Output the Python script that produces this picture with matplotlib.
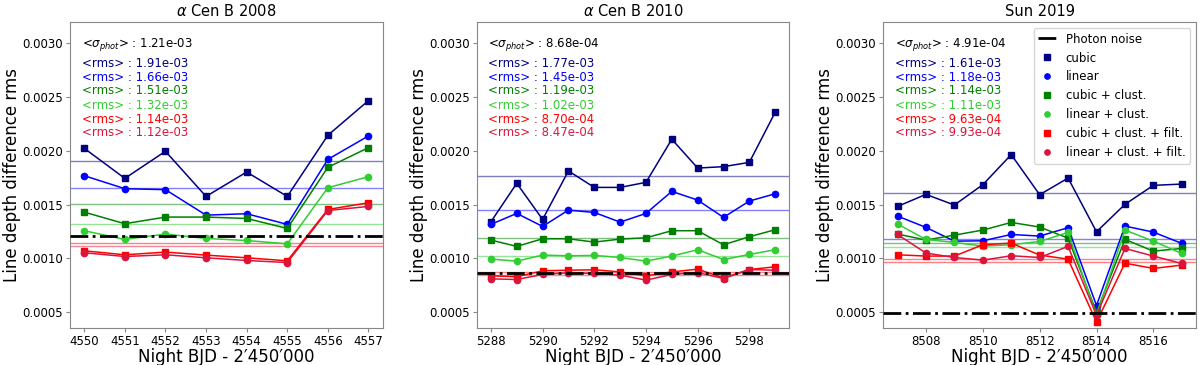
import matplotlib
matplotlib.use("Agg")
import matplotlib.pyplot as plt
from matplotlib.lines import Line2D

# ---------------- data ----------------
titles = [r"$\alpha$ Cen B 2008", r"$\alpha$ Cen B 2010", "Sun 2019"]

nights_2008 = [4550, 4551, 4552, 4553, 4554, 4555, 4556, 4557]
nights_2010 = [5288, 5289, 5290, 5291, 5292, 5293, 5294, 5295, 5296, 5297, 5298, 5299]
nights_2019 = [8507, 8508, 8509, 8510, 8511, 8512, 8513, 8514, 8515, 8516, 8517]

xticks_2008 = [4550, 4551, 4552, 4553, 4554, 4555, 4556, 4557]
xticks_2010 = [5288, 5290, 5292, 5294, 5296, 5298]
xticks_2019 = [8508, 8510, 8512, 8514, 8516]

series_labels = ["cubic", "linear", "cubic + clust.", "linear + clust.",
                 "cubic + clust. + filt.", "linear + clust. + filt."]

# 2008
cubic_2008 = [0.002025, 0.001745, 0.001997, 0.001577, 0.001804, 0.001577, 0.002146, 0.002469]
linear_2008 = [0.001770, 0.001649, 0.001640, 0.001403, 0.001416, 0.001317, 0.001922, 0.002140]
cubic_cl_2008 = [0.001431, 0.001323, 0.001385, 0.001385, 0.001372, 0.001279, 0.001848, 0.002031]
linear_cl_2008 = [0.001258, 0.001177, 0.001227, 0.001186, 0.001167, 0.001136, 0.001658, 0.001761]
cubic_clf_2008 = [0.001071, 0.001034, 0.001059, 0.001031, 0.001006, 0.000978, 0.001456, 0.001518]
linear_clf_2008 = [0.001053, 0.001018, 0.001034, 0.001006, 0.000981, 0.000962, 0.001446, 0.001484]

# 2010
cubic_2010 = [0.001341, 0.001699, 0.001363, 0.001814, 0.001661, 0.001661,
              0.001708, 0.002109, 0.001841, 0.001854, 0.001894, 0.002360]
linear_2010 = [0.001317, 0.001419, 0.001298, 0.001450, 0.001428, 0.001338,
               0.001419, 0.001624, 0.001543, 0.001382, 0.001534, 0.001602]
cubic_cl_2010 = [0.001171, 0.001112, 0.001183, 0.001183, 0.001152, 0.001180,
                 0.001192, 0.001258, 0.001258, 0.001127, 0.001202, 0.001267]
linear_cl_2010 = [0.000994, 0.000975, 0.001031, 0.001025, 0.001028, 0.001009,
                  0.000975, 0.001022, 0.001081, 0.000990, 0.001037, 0.001081]
cubic_clf_2010 = [0.000838, 0.000830, 0.000885, 0.000891, 0.000894, 0.000875,
                  0.000838, 0.000875, 0.000900, 0.000819, 0.000897, 0.000922]
linear_clf_2010 = [0.000810, 0.000804, 0.000851, 0.000866, 0.000860, 0.000845,
                   0.000798, 0.000851, 0.000869, 0.000813, 0.000897, 0.000890]

# 2019
cubic_2019 = [0.001484, 0.001596, 0.001497, 0.001686, 0.001966, 0.001593,
              0.001748, 0.001248, 0.001503, 0.001680, 0.001692]
linear_2019 = [0.001394, 0.001289, 0.001161, 0.001164, 0.001223, 0.001208,
               0.001286, 0.000562, 0.001301, 0.001245, 0.001140]
cubic_cl_2019 = [0.001227, 0.001171, 0.001217, 0.001264, 0.001335, 0.001292,
                 0.001189, 0.000500, 0.001177, 0.001068, 0.001093]
linear_cl_2019 = [0.001320, 0.001177, 0.001149, 0.001115, 0.001127, 0.001158,
                  0.001242, 0.000470, 0.001264, 0.001161, 0.001046]
cubic_clf_2019 = [0.001034, 0.001022, 0.001022, 0.001127, 0.001143, 0.001031,
                  0.000994, 0.000407, 0.000956, 0.000907, 0.000938]
linear_clf_2019 = [0.001223, 0.001050, 0.001009, 0.000984, 0.001025, 0.001009,
                   0.001112, 0.000472, 0.001093, 0.001022, 0.000953]

rms_2008 = [1.91e-3, 1.66e-3, 1.51e-3, 1.32e-3, 1.14e-3, 1.12e-3]
rms_2010 = [1.77e-3, 1.45e-3, 1.19e-3, 1.02e-3, 8.70e-4, 8.47e-4]
rms_2019 = [1.61e-3, 1.18e-3, 1.14e-3, 1.11e-3, 9.63e-4, 9.93e-4]

phot_2008 = 1.21e-3
phot_2010 = 8.68e-4
phot_2019 = 4.91e-4

yticks = [0.0005, 0.0010, 0.0015, 0.0020, 0.0025, 0.0030]

# ---------------- style ----------------
colors = ["navy", "blue", "green", "limegreen", "red", "crimson"]
markers = ["s", "o", "s", "o", "s", "o"]

panels = [
    (nights_2008, [cubic_2008, linear_2008, cubic_cl_2008, linear_cl_2008, cubic_clf_2008, linear_clf_2008],
     rms_2008, phot_2008, xticks_2008),
    (nights_2010, [cubic_2010, linear_2010, cubic_cl_2010, linear_cl_2010, cubic_clf_2010, linear_clf_2010],
     rms_2010, phot_2010, xticks_2010),
    (nights_2019, [cubic_2019, linear_2019, cubic_cl_2019, linear_cl_2019, cubic_clf_2019, linear_clf_2019],
     rms_2019, phot_2019, xticks_2019),
]

fig = plt.figure(figsize=(12, 3.65), dpi=100)
lefts = [70 / 1200, 476.7 / 1200, 883.3 / 1200]
width = 312.7 / 1200
bottom = 1 - 328.3 / 365
height = (328.3 - 22) / 365

text_y = [0.866, 0.820, 0.775, 0.729, 0.683, 0.638]

for i, (x, ys, rms, phot, xt) in enumerate(panels):
    ax = fig.add_axes([lefts[i], bottom, width, height])
    for y, c, m in zip(ys, colors, markers):
        ax.plot(x, y, color=c, marker=m, ms=4.5, lw=1.1, zorder=3)
    for r, c in zip(rms, colors):
        ax.axhline(r, color=c, lw=1.0, alpha=0.5, zorder=2)
    ax.axhline(phot, color="black", ls="-.", lw=2.0, zorder=4)

    ax.text(0.037, 0.926, r"<$\sigma_{phot}$> : " + f"{phot:.2e}",
            transform=ax.transAxes, fontsize=8.5, va="center", ha="left", color="black")
    for r, c, ty in zip(rms, colors, text_y):
        ax.text(0.037, ty, f"<rms> : {r:.2e}", transform=ax.transAxes,
                fontsize=8.5, va="center", ha="left", color=c)

    ax.set_ylim(0.00035, 0.0032)
    ax.set_yticks(yticks)
    ax.set_yticklabels([f"{v:.4f}" for v in yticks])
    ax.set_xticks(xt)
    ax.set_xticklabels([str(v) for v in xt])
    ax.tick_params(labelsize=8.5, length=3, pad=2, color="#888888")
    for sp in ax.spines.values():
        sp.set_color("#888888")
    ax.set_title(titles[i], fontsize=10.5, pad=4)
    ax.set_xlabel("Night BJD - 2\u2032450\u2032000", fontsize=12, labelpad=0)
    ax.set_ylabel("Line depth difference rms", fontsize=12, labelpad=1)

    if i == 2:
        handles = [Line2D([], [], color="black", ls="-.", lw=2.0)]
        for c, m in zip(colors, markers):
            handles.append(Line2D([], [], color=c, marker=m, ls="none", ms=4.5))
        ax.legend(handles, ["Photon noise"] + series_labels, loc="upper right",
                  fontsize=8.5, handlelength=1.5, markerscale=0.85)

fig.savefig("out.png", dpi=100)
